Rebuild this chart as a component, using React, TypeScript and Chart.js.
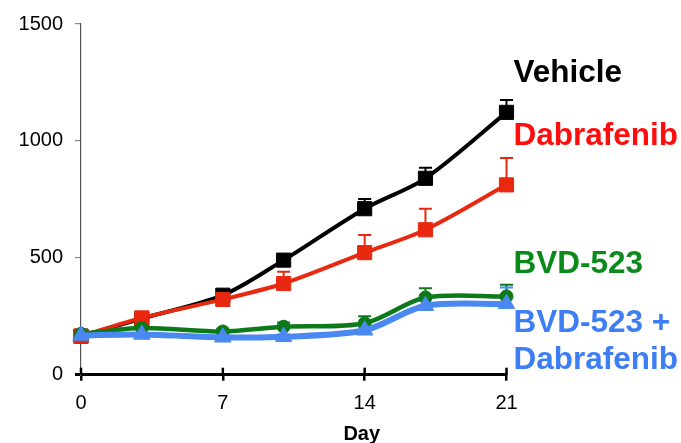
import React, { useEffect, useRef } from "react";
import { Chart, registerables } from "chart.js";

Chart.register(...registerables);

const days = [0, 3, 7, 10, 14, 17, 21];
const vehicle = [165, 240, 340, 490, 710, 840, 1122];
const vehicleErr = [10, 10, 15, 20, 42, 45, 53];
const dabrafenib = [165, 243, 322, 390, 522, 620, 812];
const dabrafenibErr = [10, 12, 18, 50, 75, 90, 115];
const bvd523 = [175, 200, 185, 205, 220, 330, 335];
const bvd523Err = [8, 10, 12, 18, 30, 40, 50];
const combo = [168, 172, 160, 162, 190, 295, 303];
const comboErr = [5, 6, 8, 10, 15, 45, 70];
const xTicks = [0, 7, 14, 21];
const yTicks = [0, 500, 1000, 1500];
const xTitle = "Day";

const FONT = "'Liberation Sans', Arial, sans-serif";

const series = [
  { label: "Vehicle", values: vehicle, err: vehicleErr, color: "#000000", style: "rect", radius: 10, width: 4, order: 4 },
  { label: "Dabrafenib", values: dabrafenib, err: dabrafenibErr, color: "#e8290f", style: "rect", radius: 10, width: 4, order: 3 },
  { label: "BVD-523", values: bvd523, err: bvd523Err, color: "#0d7a1a", style: "circle", radius: 6.5, width: 4.5, order: 2 },
  { label: "BVD-523 + Dabrafenib", values: combo, err: comboErr, color: "#4a88f2", style: "triangle", radius: 9.5, width: 6, order: 1 },
];

const sideLabels = [
  { lines: ["Vehicle"], color: "#000000", y: 82 },
  { lines: ["Dabrafenib"], color: "#ff0d0d", y: 145 },
  { lines: ["BVD-523"], color: "#0a8a1a", y: 273 },
  { lines: ["BVD-523 +", "Dabrafenib"], color: "#3d7ef5", y: 332 },
];

const errorBarPlugin = {
  id: "errorBars",
  beforeDatasetsDraw(chart: any) {
    const ctx = chart.ctx;
    const xs = chart.scales.x;
    const ys = chart.scales.y;
    ctx.save();
    series
      .slice()
      .sort((a, b) => b.order - a.order)
      .forEach((s) => {
        ctx.strokeStyle = s.color;
        ctx.lineWidth = 2;
        s.values.forEach((v, i) => {
          const x = xs.getPixelForValue(days[i]);
          const y0 = ys.getPixelForValue(v);
          const y1 = ys.getPixelForValue(v + s.err[i]);
          ctx.beginPath();
          ctx.moveTo(x, y0);
          ctx.lineTo(x, y1);
          ctx.moveTo(x - 6.5, y1);
          ctx.lineTo(x + 6.5, y1);
          ctx.stroke();
        });
      });
    ctx.restore();
  },
};

const decorPlugin = {
  id: "decor",
  afterDraw(chart: any) {
    const ctx = chart.ctx;
    const xs = chart.scales.x;
    const area = chart.chartArea;
    ctx.save();
    ctx.strokeStyle = "#000";
    ctx.lineWidth = 2.5;
    xTicks.forEach((t) => {
      const x = xs.getPixelForValue(t);
      ctx.beginPath();
      ctx.moveTo(x, area.bottom);
      ctx.lineTo(x, area.bottom - 7);
      ctx.stroke();
    });
    ctx.fillStyle = "#000";
    ctx.font = `bold 20px ${FONT}`;
    ctx.textAlign = "center";
    ctx.textBaseline = "alphabetic";
    ctx.fillText(xTitle, (area.left + area.right) / 2 + 68, 440);
    ctx.textAlign = "left";
    ctx.font = `bold 31.5px ${FONT}`;
    sideLabels.forEach((l) => {
      ctx.fillStyle = l.color;
      l.lines.forEach((line, k) => {
        ctx.fillText(line, area.right + 7, l.y + k * 36.5);
      });
    });
    ctx.restore();
  },
};

export default function App() {
  const ref = useRef<HTMLCanvasElement | null>(null);
  useEffect(() => {
    if (!ref.current) return;
    const chart = new Chart(ref.current, {
      type: "line",
      data: {
        datasets: series.map((s) => ({
          label: s.label,
          data: s.values.map((v, i) => ({ x: days[i], y: v })),
          borderColor: s.color,
          backgroundColor: s.color,
          pointBackgroundColor: s.color,
          pointBorderColor: s.color,
          pointBorderWidth: 1,
          pointStyle: s.style as any,
          pointRadius: s.radius,
          borderWidth: s.width,
          tension: 0.3,
          order: s.order,
          clip: false as any,
        })),
      },
      options: {
        animation: false,
        responsive: true,
        maintainAspectRatio: false,
        layout: { padding: { left: 0, top: 18, right: 174.5, bottom: 0 } },
        plugins: {
          legend: { display: false },
          tooltip: { enabled: false },
        },
        scales: {
          x: {
            type: "linear",
            min: 0,
            max: 21,
            afterFit: (s: any) => {
              s.height = 68.3;
            },
            afterBuildTicks: (s: any) => {
              s.ticks = xTicks.map((v) => ({ value: v }));
            },
            ticks: {
              font: { size: 20, family: FONT },
              color: "#000",
              padding: 11,
              maxRotation: 0,
              callback: (v: any) => String(v),
            },
            grid: {
              drawOnChartArea: false,
              drawTicks: true,
              tickLength: 6,
              color: "#000",
              lineWidth: 2.5,
            },
            border: { color: "#000", width: 3 },
          },
          y: {
            type: "linear",
            min: 0,
            max: 1500,
            afterFit: (s: any) => {
              s.width = 81;
            },
            afterBuildTicks: (s: any) => {
              s.ticks = yTicks.map((v) => ({ value: v }));
            },
            ticks: {
              font: { size: 20, family: FONT },
              color: "#000",
              padding: 12,
              callback: (v: any) => String(v),
            },
            grid: {
              drawOnChartArea: false,
              drawTicks: true,
              tickLength: 6,
              color: (c: any) => (c.tick && c.tick.value === 0 ? "#000" : "#888"),
              lineWidth: (c: any) => (c.tick && c.tick.value === 0 ? 3 : 1.2),
            },
            border: { color: "#555", width: 1.2 },
          },
        },
      },
      plugins: [errorBarPlugin, decorPlugin],
    });
    return () => chart.destroy();
  }, []);
  return (
    <div style={{ position: "absolute", left: 0, top: 0, width: 681, height: 443, background: "#fff" }}>
      <canvas ref={ref} />
    </div>
  );
}
